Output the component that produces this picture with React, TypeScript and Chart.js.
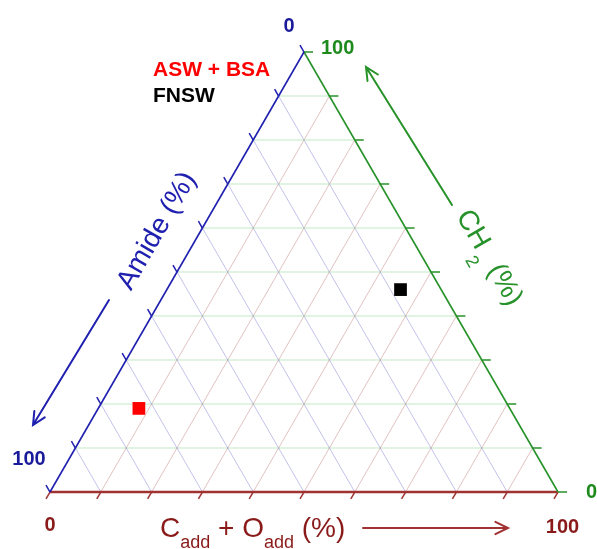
import React, { useEffect, useRef } from 'react';
import { Chart, registerables } from 'chart.js';

Chart.register(...registerables);

// ---- data (ternary composition, %) ----
const seriesLabels = ['ASW + BSA', 'FNSW'];
const seriesColors = ['#ff0000', '#000000'];
const amide = [73, 8];
const cAddOAdd = [8, 46];
const ch2 = [19, 46];

const gridSteps = [0, 10, 20, 30, 40, 50, 60, 70, 80, 90, 100];
const axisMin = '0';
const axisMax = '100';

const FONT = '"Liberation Sans", Arial, sans-serif';
const BLUE = '#2020b0';
const BLUE_TXT = '#1a1a9c';
const GREEN = '#28922a';
const GREEN_TXT = '#1e8a1e';
const BROWN = '#a03232';
const BROWN_TXT = '#8a1a1a';
const GRID_BLUE = 'rgba(120,120,210,0.45)';
const GRID_GREEN = 'rgba(120,200,120,0.45)';
const GRID_BROWN = 'rgba(190,120,120,0.45)';

const SQ = Math.sqrt(3) / 2;
function tern(a: number, b: number, c: number) {
  const s = a + b + c;
  return { x: (b + c / 2) / s, y: (c * SQ) / s };
}

function line(ctx: CanvasRenderingContext2D, p: number[], q: number[], color: string, w: number) {
  ctx.beginPath();
  ctx.strokeStyle = color;
  ctx.lineWidth = w;
  ctx.moveTo(p[0], p[1]);
  ctx.lineTo(q[0], q[1]);
  ctx.stroke();
}

function arrow(ctx: CanvasRenderingContext2D, x0: number, y0: number, x1: number, y1: number, color: string) {
  const ang = Math.atan2(y1 - y0, x1 - x0);
  const L = 14;
  const spread = 0.45;
  ctx.save();
  ctx.strokeStyle = color;
  ctx.lineWidth = 2;
  ctx.lineCap = 'round';
  ctx.beginPath();
  ctx.moveTo(x0, y0);
  ctx.lineTo(x1, y1);
  ctx.moveTo(x1 - L * Math.cos(ang - spread), y1 - L * Math.sin(ang - spread));
  ctx.lineTo(x1, y1);
  ctx.lineTo(x1 - L * Math.cos(ang + spread), y1 - L * Math.sin(ang + spread));
  ctx.stroke();
  ctx.restore();
}

const ternaryPlugin = {
  id: 'ternaryFrame',
  beforeDatasetsDraw(chart: any) {
    const { ctx } = chart;
    const xs = chart.scales.x;
    const ys = chart.scales.y;
    const P = (a: number, b: number, c: number) => {
      const t = tern(a, b, c);
      return [xs.getPixelForValue(t.x), ys.getPixelForValue(t.y)];
    };
    ctx.save();
    // grid lines
    for (const v of gridSteps) {
      if (v === 0 || v === 100) continue;
      const f = v / 100;
      line(ctx, P(1 - f, 0, f), P(0, 1 - f, f), GRID_GREEN, 1);
      line(ctx, P(f, 0, 1 - f), P(f, 1 - f, 0), GRID_BLUE, 1);
      line(ctx, P(1 - f, f, 0), P(0, f, 1 - f), GRID_BROWN, 1);
    }
    // ticks
    for (const v of gridSteps) {
      const f = v / 100;
      const g = P(0, 1 - f, f);
      line(ctx, g, [g[0] + 9, g[1]], GREEN, 1.5);
      const bl = P(f, 0, 1 - f);
      line(ctx, bl, [bl[0] - 0.5 * 8, bl[1] - SQ * 8], BLUE, 1.5);
      const br = P(1 - f, f, 0);
      line(ctx, br, [br[0] - 0.5 * 8, br[1] + SQ * 8], BROWN, 1.5);
    }
    // edges
    line(ctx, P(1, 0, 0), P(0, 1, 0), BROWN, 2.5);
    line(ctx, P(0, 0, 1), P(0, 1, 0), GREEN, 1.6);
    line(ctx, P(0, 0, 1), P(1, 0, 0), BLUE, 1.6);
    ctx.restore();
  },
  afterDatasetsDraw(chart: any) {
    const { ctx } = chart;
    const xs = chart.scales.x;
    const ys = chart.scales.y;
    const P = (a: number, b: number, c: number) => {
      const t = tern(a, b, c);
      return [xs.getPixelForValue(t.x), ys.getPixelForValue(t.y)];
    };
    const top = P(0, 0, 1);
    const bl = P(1, 0, 0);
    const br = P(0, 1, 0);
    ctx.save();
    ctx.textBaseline = 'alphabetic';
    ctx.font = `bold 20px ${FONT}`;
    // end labels
    ctx.textAlign = 'center';
    ctx.fillStyle = BLUE_TXT;
    ctx.fillText(axisMin, top[0] - 15, top[1] - 20);
    ctx.fillText(axisMax, bl[0] - 21, bl[1] - 27);
    ctx.fillStyle = GREEN_TXT;
    ctx.textAlign = 'left';
    ctx.fillText(axisMax, top[0] + 17, top[1] + 2);
    ctx.fillText(axisMin, br[0] + 28, br[1] + 6);
    ctx.textAlign = 'center';
    ctx.fillStyle = BROWN_TXT;
    ctx.fillText(axisMin, bl[0], bl[1] + 39);
    ctx.fillText(axisMax, br[0] + 4.5, br[1] + 41);

    // legend
    ctx.textAlign = 'left';
    ctx.font = `bold 21px ${FONT}`;
    seriesLabels.forEach((lab, i) => {
      ctx.fillStyle = seriesColors[i];
      ctx.fillText(lab, 153, 76 + i * 26);
    });

    // Amide title
    ctx.save();
    ctx.translate(157, 231);
    ctx.rotate(-Math.PI / 3);
    ctx.font = `28px ${FONT}`;
    ctx.fillStyle = BLUE;
    ctx.textAlign = 'center';
    ctx.textBaseline = 'middle';
    ctx.fillText('Amide (%)', 0, 0);
    ctx.restore();
    arrow(ctx, 109, 300, 33, 425, BLUE);

    // CH2 title
    ctx.save();
    ctx.translate(489, 258);
    ctx.rotate(Math.PI / 3);
    ctx.fillStyle = GREEN;
    ctx.textBaseline = 'middle';
    ctx.textAlign = 'left';
    ctx.font = `28px ${FONT}`;
    const w1 = ctx.measureText('CH').width;
    ctx.font = `18px ${FONT}`;
    const w2 = ctx.measureText('2').width + 4;
    ctx.font = `28px ${FONT}`;
    const w3 = ctx.measureText(' (%)').width;
    const x0 = -(w1 + w2 + w3) / 2;
    ctx.fillText('CH', x0, 0);
    ctx.font = `18px ${FONT}`;
    ctx.fillText('2', x0 + w1 + 2, 17);
    ctx.font = `28px ${FONT}`;
    ctx.fillText(' (%)', x0 + w1 + w2, 0);
    ctx.restore();
    arrow(ctx, 452, 205, 366, 67, GREEN);

    // bottom title
    ctx.fillStyle = BROWN_TXT;
    ctx.textAlign = 'left';
    let bx = 160;
    const by = 537;
    const parts: [string, boolean][] = [['C', false], ['add', true], [' + O', false], ['add', true], [' (%)', false]];
    for (const [t, sub] of parts) {
      ctx.font = sub ? `18px ${FONT}` : `28px ${FONT}`;
      ctx.fillText(t, bx, sub ? by + 11 : by);
      bx += ctx.measureText(t).width;
    }
    arrow(ctx, 363, 528, 508, 528, BROWN);
    ctx.restore();
  },
};

export default function App() {
  const ref = useRef<HTMLCanvasElement | null>(null);
  useEffect(() => {
    if (!ref.current) return;
    const datasets = seriesLabels.map((lab, i) => {
      const t = tern(amide[i], cAddOAdd[i], ch2[i]);
      return {
        label: lab,
        data: [{ x: t.x, y: t.y }],
        backgroundColor: seriesColors[i],
        borderColor: seriesColors[i],
        borderWidth: 0,
        pointStyle: 'rect' as const,
        pointRadius: 9,
        clip: false as any,
      };
    });
    const chart = new Chart(ref.current, {
      type: 'scatter',
      data: { datasets },
      options: {
        responsive: false,
        animation: false,
        layout: { padding: { left: 50, right: 39, top: 52, bottom: 57 } },
        plugins: { legend: { display: false }, tooltip: { enabled: false }, title: { display: false } },
        scales: {
          x: { type: 'linear', min: 0, max: 1, display: false },
          y: { type: 'linear', min: 0, max: SQ, display: false },
        },
      },
      plugins: [ternaryPlugin],
    });
    return () => chart.destroy();
  }, []);
  return (
    <div style={{ position: 'absolute', left: 0, top: 0, width: 597, height: 549, background: '#fff' }}>
      <canvas ref={ref} width={597} height={549} />
    </div>
  );
}
